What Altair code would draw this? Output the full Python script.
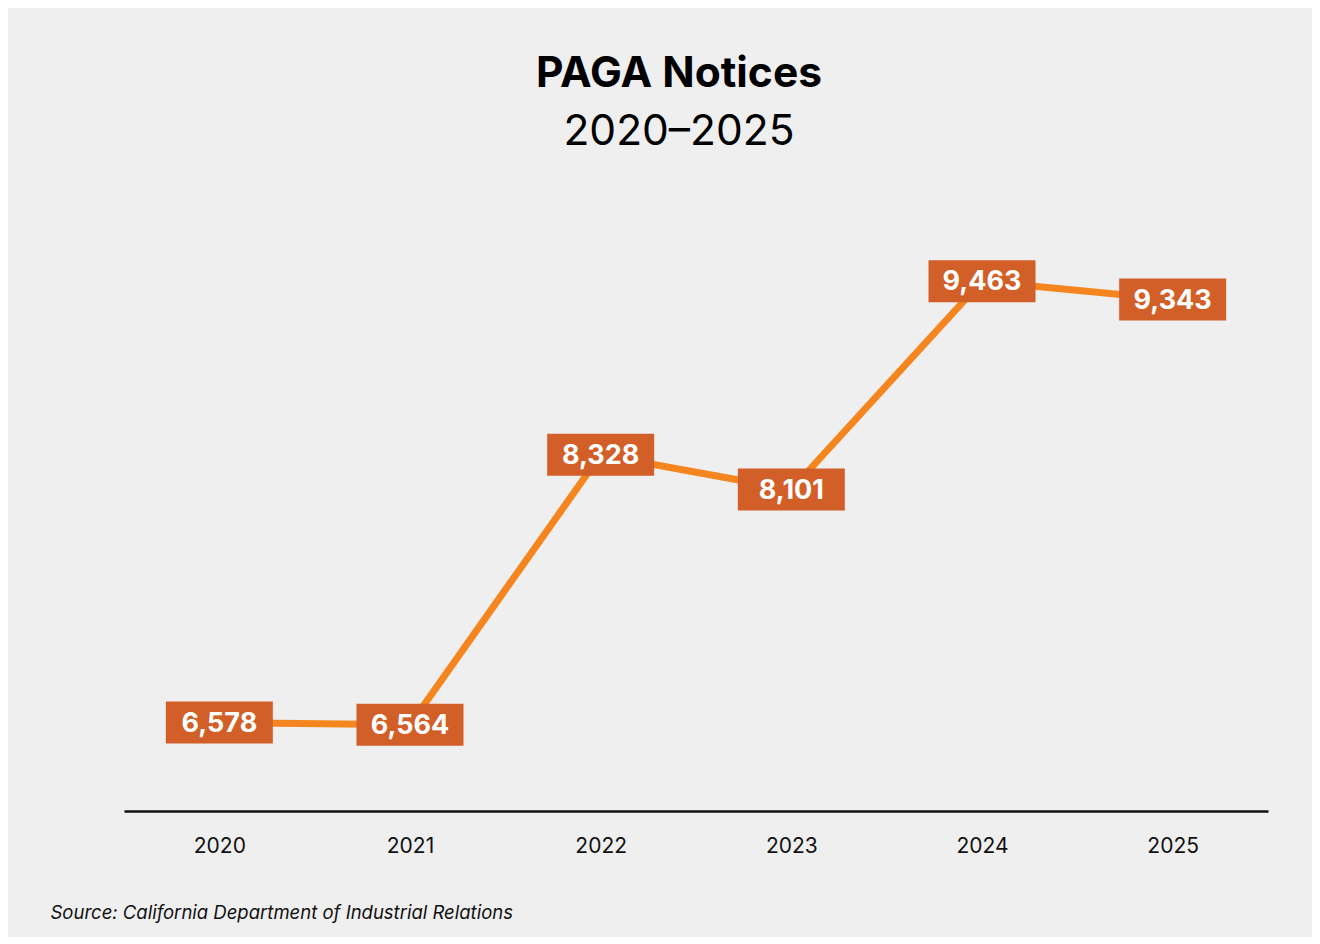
import altair as alt
import pandas as pd

years = ["2020", "2021", "2022", "2023", "2024", "2025"]
notices = [6578, 6564, 8328, 8101, 9463, 9343]
labels = ["6,578", "6,564", "8,328", "8,101", "9,463", "9,343"]

df = pd.DataFrame({"year": years, "notices": notices, "label": labels})

FONT = "Inter"
BG = "#efefef"

x = alt.X(
    "year:N",
    sort=years,
    scale=alt.Scale(type="point", padding=0.5),
    axis=alt.Axis(
        title="Source: California Department of Industrial Relations",
        titleFont=FONT,
        titleFontSize=18.5,
        titleFontStyle="italic",
        titleFontWeight="normal",
        titleColor="#111111",
        titleAnchor="start",
        titleAlign="left",
        titleBaseline="middle",
        titleX=-74,
        titleY=101,
        labelFont=FONT,
        labelFontSize=21,
        labelColor="#111111",
        labelPadding=24,
        labelAngle=0,
        ticks=False,
        grid=False,
        domainColor="#111111",
        domainWidth=2.5,
    ),
)
y = alt.Y("notices:Q", scale=alt.Scale(domain=[6000, 10000]), axis=None)

base = alt.Chart(df).encode(x=x, y=y)

line = base.mark_line(color="#f5851f", strokeWidth=7)
boxes = base.mark_rect(color="#d35f28", width=107, height=42)
text = base.mark_text(
    color="white", font=FONT, fontSize=27, fontWeight="bold", baseline="middle", align="center", dy=1
).encode(text="label:N")

chart = (
    alt.layer(line, boxes, text)
    .properties(
        width=1144,
        height=612,
        padding={"left": 42, "right": 44, "top": 45, "bottom": 15},
        background=BG,
        title=alt.TitleParams(
            text="PAGA Notices",
            subtitle="2020–2025",
            font=FONT,
            fontSize=42.5,
            fontWeight="bold",
            color="#000000",
            subtitleFont=FONT,
            subtitleFontSize=42.5,
            subtitleFontWeight="normal",
            subtitleColor="#000000",
            subtitlePadding=15,
            anchor="middle",
            dx=-17,
            offset=46,
        ),
    )
    .configure_view(stroke=None)
)

chart.save("out.html", embed_options={"renderer": "svg", "actions": False})
